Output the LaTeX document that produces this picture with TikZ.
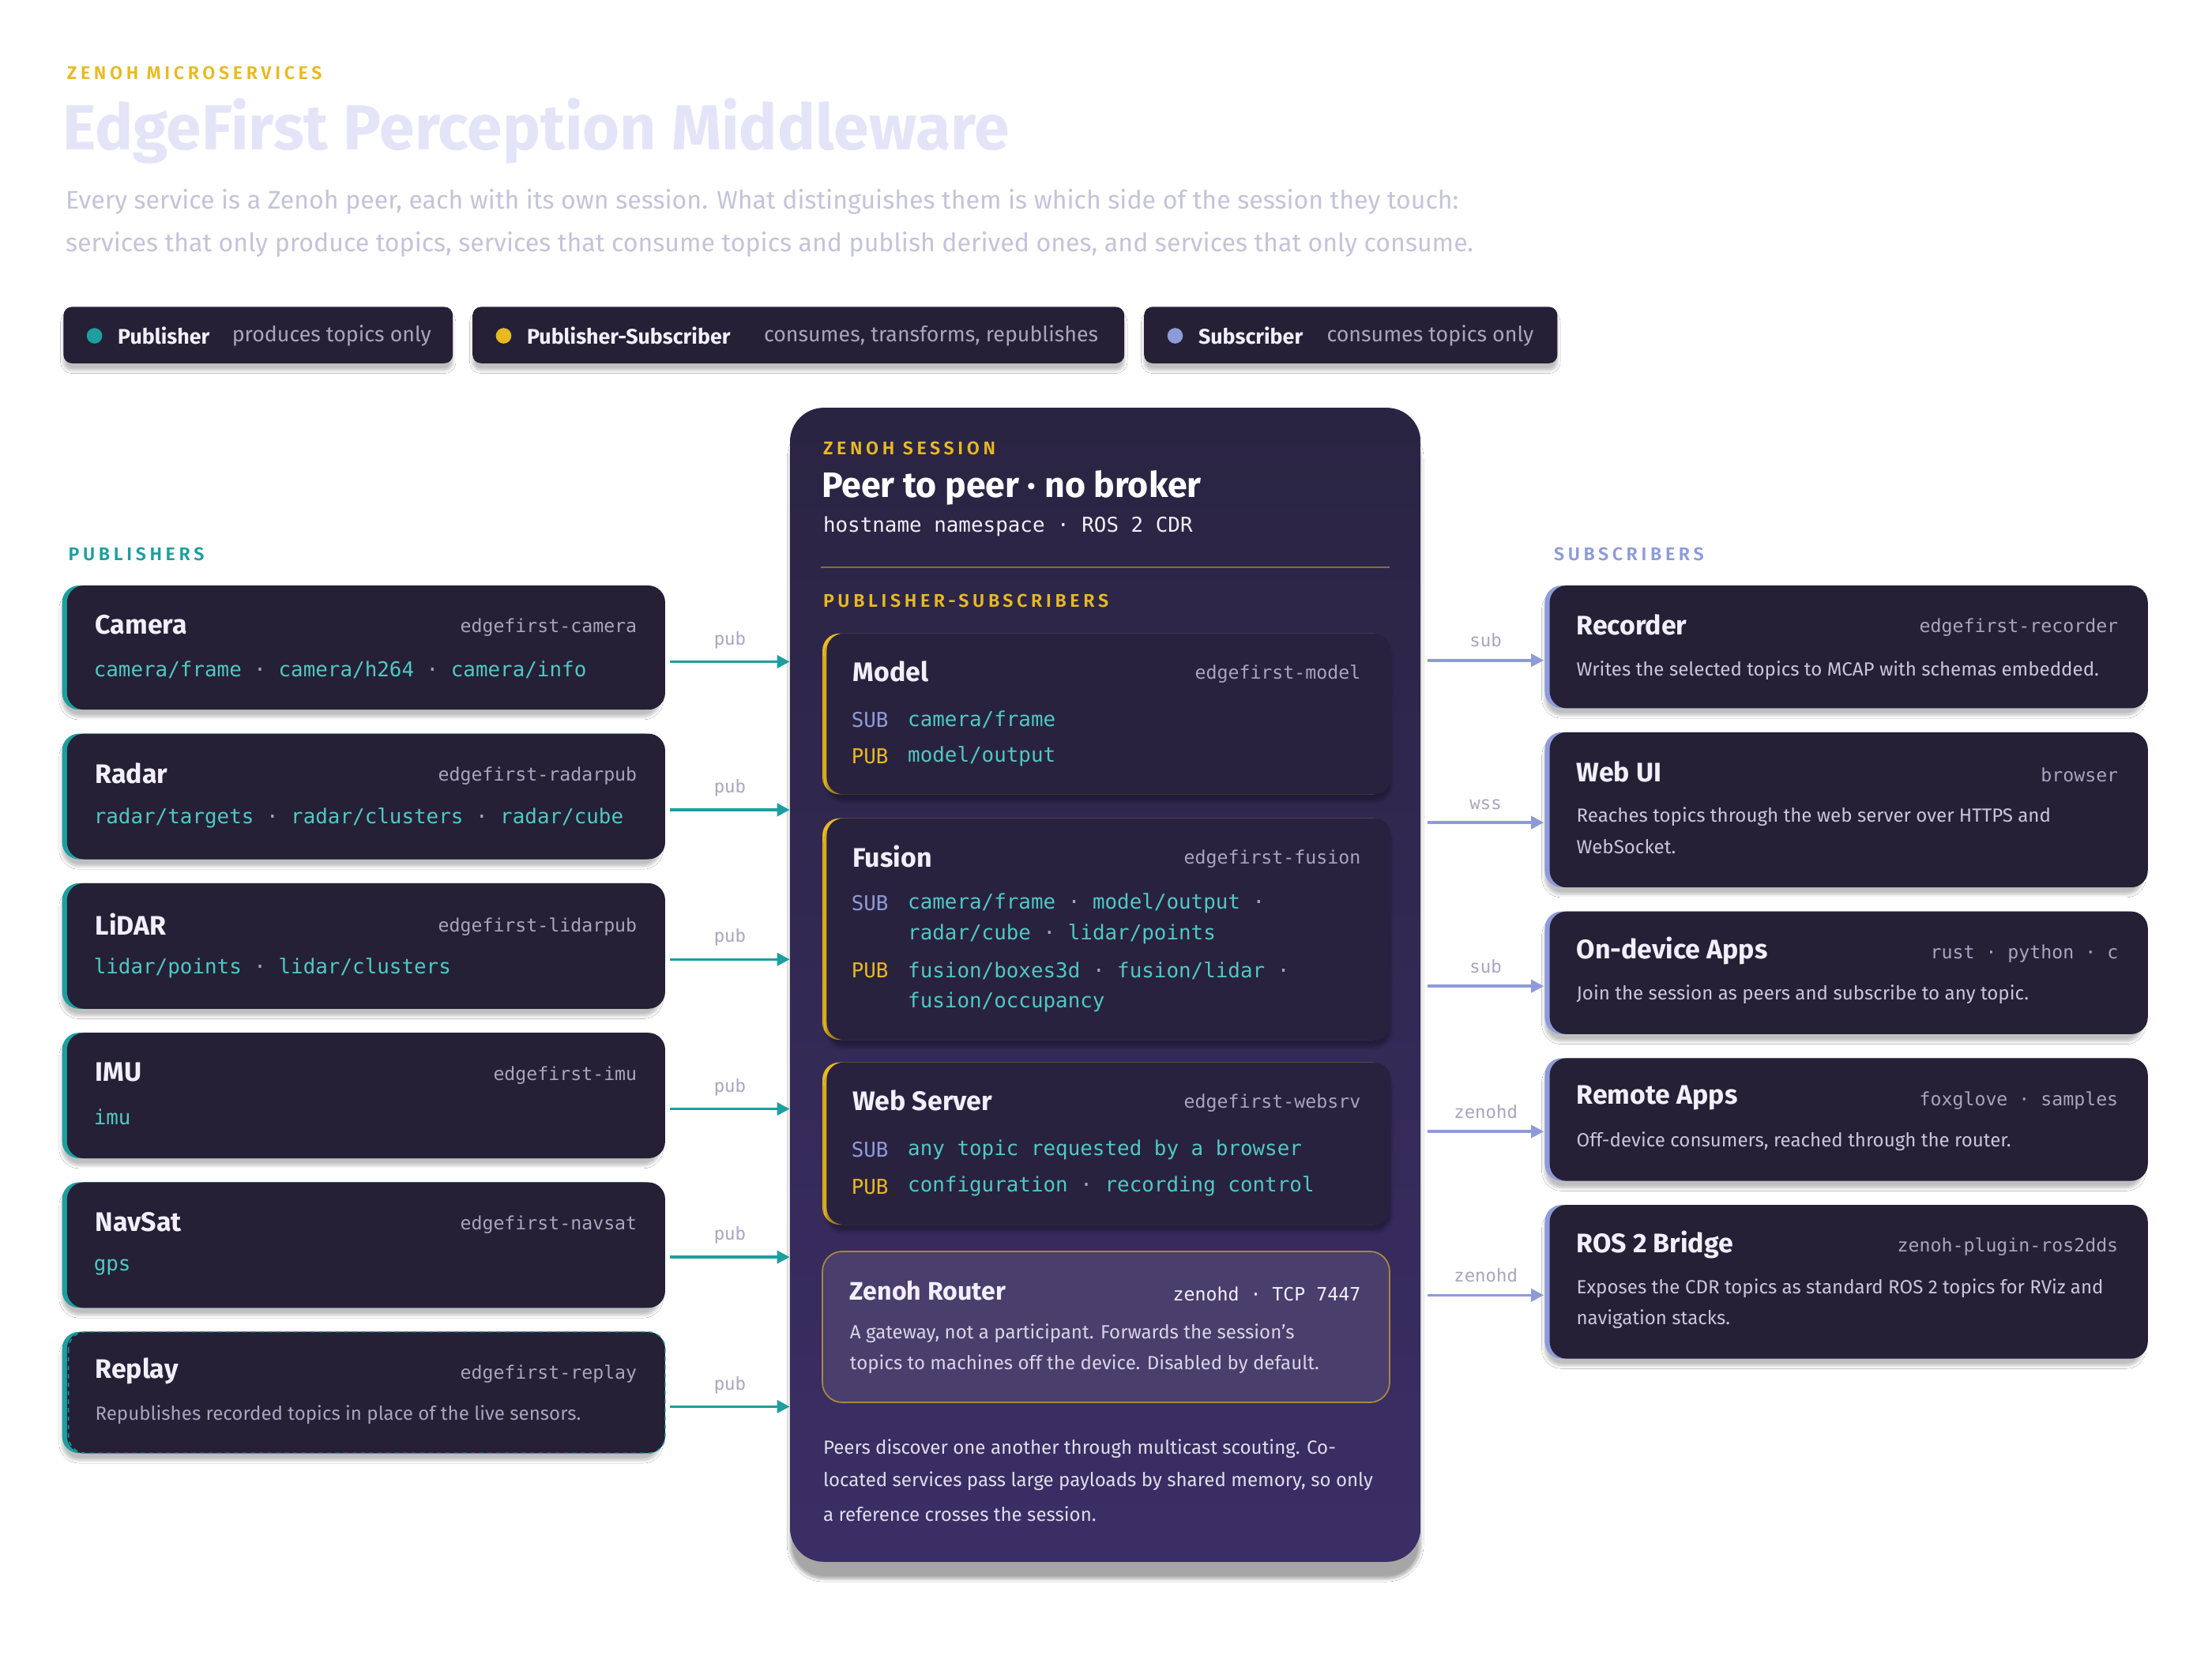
\documentclass[tikz,border=0pt]{standalone}
\usepackage{fontspec}
\setmainfont{Fira Sans}
\setmonofont{DejaVu Sans Mono}
\newfontfamily\capfont[LetterSpace=20]{Fira Sans SemiBold}
\usetikzlibrary{arrows.meta,shadows.blur}
\definecolor{card}{HTML}{252036}
\definecolor{tealc}{HTML}{1E9E9E}
\definecolor{topic}{HTML}{4FC9C4}
\definecolor{muted}{HTML}{A9A5BE}
\definecolor{wht}{HTML}{F1F0FA}
\definecolor{yel}{HTML}{E8B923}
\definecolor{lav}{HTML}{8E9BD8}
\definecolor{ttl}{HTML}{E4E4F8}
\definecolor{para}{HTML}{C5C3D9}
\definecolor{ptop}{HTML}{2A2442}
\definecolor{pbot}{HTML}{3B2E66}
\definecolor{inner}{HTML}{29223F}
\definecolor{rfill}{HTML}{4A3E6D}
\definecolor{rbord}{HTML}{A8873E}
\definecolor{rule}{HTML}{8D6D2C}
\definecolor{desc}{HTML}{C9C6DA}
\newcommand\fsz[1]{\fontsize{#1}{#1}\selectfont}
\newcommand\dotsep{~\textcolor{muted}{·}~}
\begin{document}
\begin{tikzpicture}[x=1pt,y=-1pt,
  shd/.style={blur shadow={shadow blur steps=6,shadow xshift=0pt,shadow yshift=-5pt,shadow opacity=25}},
  box/.style={rectangle,rounded corners=12,fill=card,inner sep=0,minimum width=424},
  acc/.style={rectangle,rounded corners=12,fill=#1,inner sep=0,minimum width=424,shd},
  ttl/.style={anchor=west,text=wht,font=\fsz{19}\bfseries},
  pkg/.style={anchor=east,text=muted,font=\ttfamily\fsz{13}},
  tp/.style={anchor=west,text=topic,font=\ttfamily\fsz{14.5}},
  ds/.style={anchor=west,text=desc,font=\fsz{13.5}},
  lbl/.style={text=muted,font=\ttfamily\fsz{12.5}},
  kcap/.style={anchor=west,font=\capfont\fsz{13}},
  parr/.style={draw=tealc,line width=2,-{Triangle[length=9,width=9]}},
  sarr/.style={draw=lav,line width=2,-{Triangle[length=9,width=9]}},
  lg/.style={rectangle,rounded corners=6,fill=card,inner sep=0,minimum height=40,shd},
  ib/.style={rectangle,rounded corners=12,fill=inner,inner sep=0,minimum width=400,blur shadow={shadow blur steps=6,shadow xshift=0pt,shadow yshift=-5pt,shadow opacity=30}},
  iacc/.style={rectangle,rounded corners=12,fill=yel,inner sep=0,minimum width=402}
]
\useasboundingbox[fill=white] (0,0) rectangle (1568,1184);

% header
\node[kcap,text=yel] (kick) at (44,52) {ZENOH MICROSERVICES};
\node[anchor=west,text=ttl,font=\fsz{45}\bfseries] (title) at (41,93) {EdgeFirst Perception Middleware};
\node[anchor=west,text=para,font=\fsz{18}] (p1) at (43,143) {Every service is a Zenoh peer, each with its own session. What distinguishes them is which side of the session they touch:};
\node[anchor=west,text=para,font=\fsz{18}] (p2) at (43,173) {services that only produce topics, services that consume topics and publish derived ones, and services that only consume.};

% legend
\node[lg,minimum width=276] (lg1) at (183,237.5) {};
\node[lg,minimum width=462] (lg2) at (566,237.5) {};
\node[lg,minimum width=293] (lg3) at (957.5,237.5) {};
\fill[tealc] (67,238) circle (5.5);
\fill[yel] (357,238) circle (5.5);
\fill[lav] (833,238) circle (5.5);
\node[anchor=west,text=wht,font=\fsz{15}\bfseries] at (80,238) {Publisher};
\node[anchor=west,text=muted,font=\fsz{15}] at (161,238) {produces topics only};
\node[anchor=west,text=wht,font=\fsz{15}\bfseries] at (370,238) {Publisher-Subscriber};
\node[anchor=west,text=muted,font=\fsz{15}] at (538,238) {consumes, transforms, republishes};
\node[anchor=west,text=wht,font=\fsz{15}\bfseries] at (846,238) {Subscriber};
\node[anchor=west,text=muted,font=\fsz{15}] at (937,238) {consumes topics only};

% column captions
\node[kcap,text=tealc] (pubs) at (45,393) {PUBLISHERS};
\node[kcap,text=lav] (subs) at (1098,393) {SUBSCRIBERS};

% publishers
\foreach \nm/\ya/\yb in {cam/415/503,rad/520/609,lid/626/715,imu/732/821,nav/838/927,rep/944/1030}{
  \pgfmathsetmacro\hh{\yb-\ya}\pgfmathsetmacro\cy{(\ya+\yb)/2}
  \node[acc=tealc,minimum height=\hh] at (256,\cy) {};
  \node[box,minimum height=\hh] (\nm) at (259.5,\cy) {};
}
\draw[tealc,dashed,line width=0.8,rounded corners=12] (48.5,944) rectangle (471.5,1030);

\node[ttl] at (64,443) {Camera};
\node[pkg] at (455,445) {edgefirst-camera};
\node[tp] at (63,475) {camera/frame\dotsep camera/h264\dotsep camera/info};
\node[ttl] at (64,548) {Radar};
\node[pkg] at (455,550) {edgefirst-radarpub};
\node[tp] at (63,580) {radar/targets\dotsep radar/clusters\dotsep radar/cube};
\node[ttl] at (64,655) {LiDAR};
\node[pkg] at (455,657) {edgefirst-lidarpub};
\node[tp] at (63,686) {lidar/points\dotsep lidar/clusters};
\node[ttl] at (64,760) {IMU};
\node[pkg] at (455,762) {edgefirst-imu};
\node[tp] at (63,792) {imu};
\node[ttl] at (64,866) {NavSat};
\node[pkg] at (455,868) {edgefirst-navsat};
\node[tp] at (63,898) {gps};
\node[ttl] at (64,972) {Replay};
\node[pkg] at (455,974) {edgefirst-replay};
\node[ds,text=muted] at (64,1003) {Republishes recorded topics in place of the live sensors.};

% session panel
\node[rectangle,rounded corners=24,top color=ptop,bottom color=pbot,inner sep=0,minimum width=447,minimum height=818,
  blur shadow={shadow blur steps=10,shadow xshift=0pt,shadow yshift=-12pt,shadow opacity=35}] (sess) at (783.5,698) {};
\node[kcap,text=yel] at (580,318) {ZENOH SESSION};
\node[anchor=west,text=white,font=\fsz{25}\bfseries] at (579,346) {Peer to peer · no broker};
\node[anchor=west,text=wht,font=\ttfamily\fsz{14.5}] at (580,373) {hostname namespace · ROS 2 CDR};
\draw[rule,line width=1.2] (582,402) -- (985,402);
\node[kcap,text=yel] at (580,426) {PUBLISHER-SUBSCRIBERS};

\foreach \nm/\ya/\yb in {mod/449/563,fus/580/737,web/753/868}{
  \pgfmathsetmacro\hh{\yb-\ya}\pgfmathsetmacro\cy{(\ya+\yb)/2}
  \node[iacc,minimum height=\hh] at (784,\cy) {};
  \node[ib,minimum height=\hh] (\nm) at (786,\cy) {};
}
\node[ttl] at (601,476) {Model};
\node[pkg] at (968,478) {edgefirst-model};
\node[tp,text=lav] at (600,510) {SUB};
\node[tp] at (640,510) {camera/frame};
\node[tp,text=yel] at (600,536) {PUB};
\node[tp] at (640,536) {model/output};

\node[ttl] at (601,607) {Fusion};
\node[pkg] at (968,609) {edgefirst-fusion};
\node[tp,text=lav] at (600,640) {SUB};
\node[tp] at (640,640) {camera/frame\dotsep model/output\dotsep};
\node[tp] at (640,662) {radar/cube\dotsep lidar/points};
\node[tp,text=yel] at (600,688) {PUB};
\node[tp] at (640,688) {fusion/boxes3d\dotsep fusion/lidar\dotsep};
\node[tp] at (640,710) {fusion/occupancy};

\node[ttl] at (601,780) {Web Server};
\node[pkg] at (968,782) {edgefirst-websrv};
\node[tp,text=lav] at (600,815) {SUB};
\node[tp] at (640,815) {any topic requested by a browser};
\node[tp,text=yel] at (600,841) {PUB};
\node[tp] at (640,841) {configuration\dotsep recording control};

\node[rectangle,rounded corners=14,fill=rfill,draw=rbord,line width=1,inner sep=0,minimum width=402,minimum height=107] (rtr) at (784,940.5) {};
\node[ttl,font=\fsz{18}\bfseries] at (599,915) {Zenoh Router};
\node[pkg,text=wht] at (968,917) {zenohd · TCP 7447};
\node[ds,text=wht!85!rfill] at (599,945) {A gateway, not a participant. Forwards the session's};
\node[ds,text=wht!85!rfill] at (599,967) {topics to machines off the device. Disabled by default.};

\node[ds,text=wht!90!pbot] at (580,1027) {Peers discover one another through multicast scouting. Co-};
\node[ds,text=wht!90!pbot] at (580,1050) {located services pass large payloads by shared memory, so only};
\node[ds,text=wht!90!pbot] at (580,1073) {a reference crosses the session.};

% subscribers
\foreach \nm/\ya/\yb in {rec/415/502,wui/519/629,oda/646/733,rma/750/837,ros/854/963}{
  \pgfmathsetmacro\hh{\yb-\ya}\pgfmathsetmacro\cy{(\ya+\yb)/2}
  \node[acc=lav,minimum height=\hh] at (1307,\cy) {};
  \node[box,minimum height=\hh] (\nm) at (1310.5,\cy) {};
}
\node[ttl] at (1114,443) {Recorder};
\node[pkg] at (1505,445) {edgefirst-recorder};
\node[ds] at (1114,475) {Writes the selected topics to MCAP with schemas embedded.};
\node[ttl] at (1114,547) {Web UI};
\node[pkg] at (1505,549) {browser};
\node[ds] at (1114,579) {Reaches topics through the web server over HTTPS and};
\node[ds] at (1114,600) {WebSocket.};
\node[ttl] at (1114,674) {On-device Apps};
\node[pkg] at (1505,676) {rust\dotsep python\dotsep c};
\node[ds] at (1114,705) {Join the session as peers and subscribe to any topic.};
\node[ttl] at (1114,778) {Remote Apps};
\node[pkg] at (1505,780) {foxglove\dotsep samples};
\node[ds] at (1114,809) {Off-device consumers, reached through the router.};
\node[ttl] at (1114,882) {ROS 2 Bridge};
\node[pkg] at (1505,884) {zenoh-plugin-ros2dds};
\node[ds] at (1114,913) {Exposes the CDR topics as standard ROS 2 topics for RViz and};
\node[ds] at (1114,935) {navigation stacks.};

% publisher connectors
\foreach \nm/\yy in {cam/469,rad/574,lid/680,imu/786,nav/891,rep/997}{
  \coordinate (s\nm) at (475,\yy);
  \draw[parr] (s\nm) -- (sess.west |- s\nm) node[lbl,midway,above=5pt] {pub};
}
% subscriber connectors
\foreach \nm/\yy/\t in {rec/468/sub,wui/583/wss,oda/699/sub,rma/802/zenohd,ros/918/zenohd}{
  \coordinate (e\nm) at (1012,\yy);
  \draw[sarr] (e\nm) -- ([xshift=-4pt]\nm.west |- e\nm) node[lbl,midway,above=5pt] {\t};
}
\end{tikzpicture}
\end{document}
